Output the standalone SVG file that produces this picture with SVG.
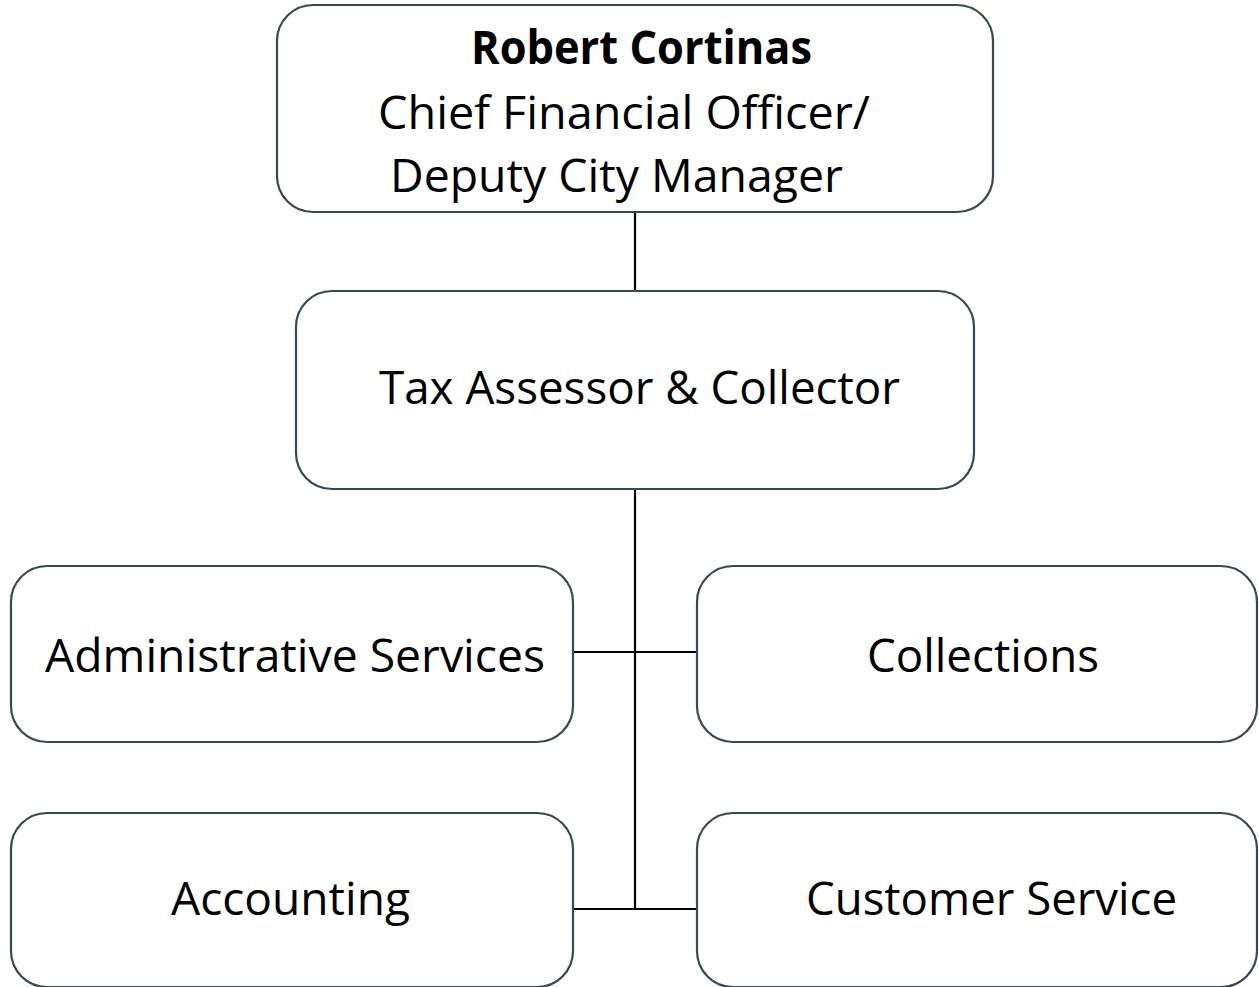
<svg xmlns="http://www.w3.org/2000/svg" width="1259" height="987" viewBox="0 0 1259 987">
<style>
.box{fill:#ffffff;stroke:#3b4656;stroke-width:2.2}
.t{font-family:"Open Sans","Liberation Sans",sans-serif;font-size:46px;fill:#000000;text-anchor:start}
.b{font-weight:bold}
.c{stroke:#000000;stroke-width:2.2;fill:none}
</style>
<rect width="1259" height="987" fill="#ffffff"/>
<g id="connectors">
<line class="c" x1="635" y1="212" x2="635" y2="291"/>
<line class="c" x1="635" y1="489" x2="635" y2="909"/>
<line class="c" x1="573" y1="652" x2="697" y2="652"/>
<line class="c" x1="573" y1="909" x2="697" y2="909"/>
</g>
<g id="node-cfo">
<rect class="box" x="277" y="5" width="716" height="207" rx="36" ry="36"/>
<text class="t b" x="471" y="64" textLength="341" lengthAdjust="spacingAndGlyphs">Robert Cortinas</text>
<text class="t" x="378" y="129" textLength="492" lengthAdjust="spacingAndGlyphs">Chief Financial Officer/</text>
<text class="t" x="390" y="192" textLength="453" lengthAdjust="spacingAndGlyphs">Deputy City Manager</text>
</g>
<g id="node-tax">
<rect class="box" x="296" y="291" width="678" height="198" rx="36" ry="36"/>
<text class="t" x="379" y="404" textLength="521" lengthAdjust="spacingAndGlyphs">Tax Assessor &amp; Collector</text>
</g>
<g id="node-admin">
<rect class="box" x="11" y="566" width="562" height="176" rx="36" ry="36"/>
<text class="t" x="45" y="672" textLength="500" lengthAdjust="spacingAndGlyphs">Administrative Services</text>
</g>
<g id="node-collections">
<rect class="box" x="697" y="566" width="560" height="176" rx="36" ry="36"/>
<text class="t" x="867" y="672" textLength="232" lengthAdjust="spacingAndGlyphs">Collections</text>
</g>
<g id="node-accounting">
<rect class="box" x="11" y="813" width="562" height="174" rx="36" ry="36"/>
<text class="t" x="171" y="915" textLength="239" lengthAdjust="spacingAndGlyphs">Accounting</text>
</g>
<g id="node-customer">
<rect class="box" x="697" y="813" width="560" height="174" rx="36" ry="36"/>
<text class="t" x="806" y="915" textLength="371" lengthAdjust="spacingAndGlyphs">Customer Service</text>
</g>
</svg>
